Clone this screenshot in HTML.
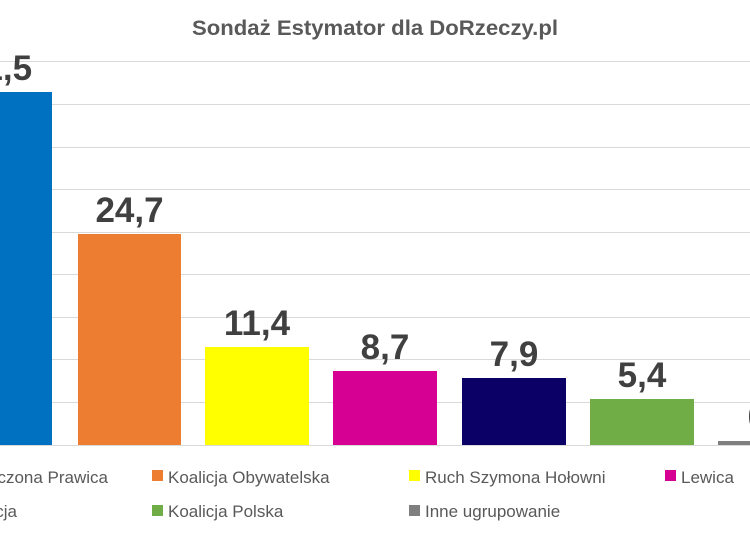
<!DOCTYPE html>
<html><head><meta charset="utf-8"><style>
html,body{margin:0;padding:0;background:#fff;}
svg{display:block;}
text{font-family:"Liberation Sans",sans-serif;}
</style></head><body>
<svg width="750" height="536" viewBox="0 0 750 536" xmlns="http://www.w3.org/2000/svg">
<rect width="750" height="536" fill="#fff"/>
<text x="375" y="35" text-anchor="middle" font-size="21" font-weight="bold" fill="#595959" textLength="366" lengthAdjust="spacingAndGlyphs">Sondaż Estymator dla DoRzeczy.pl</text>
<g stroke="#d9d9d9" stroke-width="1">
<line x1="0" y1="61.5" x2="750" y2="61.5"/>
<line x1="0" y1="104.5" x2="750" y2="104.5"/>
<line x1="0" y1="147.5" x2="750" y2="147.5"/>
<line x1="0" y1="189.5" x2="750" y2="189.5"/>
<line x1="0" y1="232.5" x2="750" y2="232.5"/>
<line x1="0" y1="274.5" x2="750" y2="274.5"/>
<line x1="0" y1="317.5" x2="750" y2="317.5"/>
<line x1="0" y1="359.5" x2="750" y2="359.5"/>
<line x1="0" y1="402.5" x2="750" y2="402.5"/>
<line x1="0" y1="445.5" x2="750" y2="445.5"/>
</g>
<rect x="-52" y="92" width="104" height="353" fill="#0070c0"/>
<rect x="78" y="234" width="103" height="211" fill="#ed7d31"/>
<rect x="205" y="347" width="104" height="98" fill="#ffff00"/>
<rect x="333" y="371" width="104" height="74" fill="#d60093"/>
<rect x="462" y="378" width="104" height="67" fill="#0b0066"/>
<rect x="590" y="399" width="104" height="46" fill="#70ad47"/>
<rect x="718" y="441" width="40" height="4" fill="#7f7f7f"/>
<g font-size="35" font-weight="bold" fill="#404040" text-anchor="middle">
<text x="-2" y="80">41,5</text>
<text x="129.5" y="222">24,7</text>
<text x="257" y="335">11,4</text>
<text x="385" y="359">8,7</text>
<text x="514" y="366">7,9</text>
<text x="642" y="387">5,4</text>
<text x="772" y="429">0,6</text>
</g>
<g font-size="17" fill="#595959">
<text x="108" y="483" text-anchor="end">Zjednoczona Prawica</text>
<rect x="152" y="470" width="11" height="11" fill="#ed7d31"/><text x="168" y="483">Koalicja Obywatelska</text>
<rect x="409" y="470" width="11" height="11" fill="#ffff00"/><text x="425" y="483">Ruch Szymona Hołowni</text>
<rect x="665" y="470" width="11" height="11" fill="#d60093"/><text x="681" y="483">Lewica</text>
<text x="17" y="517" text-anchor="end">Konfederacja</text>
<rect x="152" y="505" width="11" height="11" fill="#70ad47"/><text x="168" y="517">Koalicja Polska</text>
<rect x="409" y="505" width="11" height="11" fill="#7f7f7f"/><text x="425" y="517">Inne ugrupowanie</text>
</g>
</svg>
</body></html>
